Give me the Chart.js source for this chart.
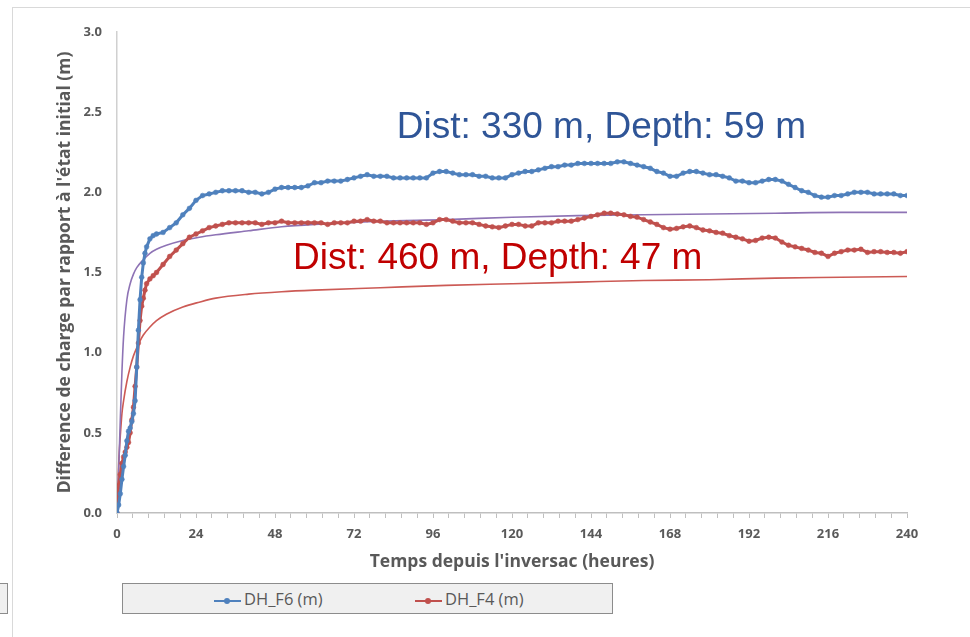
<!DOCTYPE html>
<html>
<head>
<meta charset="utf-8">
<script src="https://cdn.jsdelivr.net/npm/chart.js@4"></script>
<style>
  html, body { margin: 0; padding: 0; background: #fff; }
  #wrap { position: relative; width: 970px; height: 637px; overflow: hidden; }
  #frameTop { position: absolute; left: 12px; top: 7px; width: 958px; height: 0; border-top: 1px solid #d9d9d9; }
  #frameLeft { position: absolute; left: 12px; top: 7px; width: 0; height: 630px; border-left: 1px solid #d9d9d9; }
  #stub { position: absolute; left: -2px; top: 583px; width: 8px; height: 29px; background: #f0f0f0; border: 1px solid #8c8c8c; }
  #legend { position: absolute; left: 122px; top: 583px; width: 489px; height: 29px; background: #f0f0f0; border: 1px solid #8c8c8c;
            font-family: "Open Sans", sans-serif; font-size: 16.5px; color: #595959; }
  .item { position: absolute; top: 3px; white-space: nowrap; }
  .mark { display: inline-block; position: relative; width: 27px; height: 2px; vertical-align: middle; margin-right: 3px; }
  .mark::after { content: ""; position: absolute; left: 10px; top: -2px; width: 6px; height: 6px; border-radius: 50%; background: inherit; }
  canvas { position: absolute; left: 0; top: 0; }
</style>
</head>
<body>
<div id="wrap">
  <div id="frameTop"></div>
  <div id="frameLeft"></div>
  <div id="stub"></div>
  <div id="legend">
    <span class="item" style="left:91px"><span class="mark" style="background:#4f81bd"></span>DH_F6 (m)</span>
    <span class="item" style="left:292px"><span class="mark" style="background:#c0504d"></span>DH_F4 (m)</span>
  </div>
  <canvas id="dh-chart" width="970" height="637"></canvas>
</div>
<script>
// observation times (hours since the inversion)
const hoursObs = [
  0, 0.5, 1, 1.5, 2, 2.5, 3, 3.5, 4, 4.5, 5, 5.5, 6, 6.5, 7, 7.5, 8, 8.5, 9, 10, 11, 12,
  14, 16, 18, 20, 22, 24, 26, 28, 30, 32, 34, 36, 38, 40, 42, 44, 46, 48,
  50, 52, 54, 56, 58, 60, 62, 64, 66, 68, 70, 72, 74, 76, 78, 80, 82, 84, 86, 88,
  90, 92, 94, 96, 98, 100, 102, 104, 106, 108, 110, 112, 114, 116, 118, 120,
  122, 124, 126, 128, 130, 132, 134, 136, 138, 140, 142, 144, 146, 148, 150,
  152, 154, 156, 158, 160, 162, 164, 166, 168, 170, 172, 174, 176, 178, 180,
  182, 184, 186, 188, 190, 192, 194, 196, 198, 200, 202, 204, 206, 208, 210,
  212, 214, 216, 218, 220, 222, 224, 226, 228, 230, 232, 234, 236, 238, 240
];
const dhF6 = [
  0, 0.05, 0.12, 0.21, 0.29, 0.36, 0.45, 0.51, 0.53, 0.57, 0.62, 0.70, 0.91, 1.14, 1.33, 1.47, 1.56, 1.62, 1.66, 1.71, 1.73, 1.74,
  1.75, 1.78, 1.81, 1.86, 1.90, 1.95, 1.98, 1.99, 2.00, 2.01, 2.01, 2.01, 2.01, 2.00, 2.00, 1.99, 2.00, 2.02,
  2.03, 2.03, 2.03, 2.03, 2.04, 2.06, 2.06, 2.07, 2.07, 2.07, 2.08, 2.09, 2.10, 2.11, 2.10, 2.10, 2.10, 2.09, 2.09, 2.09,
  2.09, 2.09, 2.09, 2.12, 2.13, 2.13, 2.12, 2.11, 2.11, 2.11, 2.10, 2.10, 2.09, 2.09, 2.09, 2.11,
  2.12, 2.13, 2.13, 2.14, 2.15, 2.16, 2.16, 2.17, 2.17, 2.18, 2.18, 2.18, 2.18, 2.18, 2.18,
  2.19, 2.19, 2.18, 2.17, 2.16, 2.15, 2.13, 2.12, 2.10, 2.10, 2.12, 2.13, 2.13, 2.12, 2.11,
  2.11, 2.10, 2.09, 2.07, 2.07, 2.06, 2.06, 2.07, 2.08, 2.08, 2.07, 2.05, 2.03, 2.01, 2.00,
  1.98, 1.97, 1.97, 1.98, 1.98, 1.99, 2.00, 2.00, 2.00, 1.99, 1.99, 1.99, 1.99, 1.98, 1.98
];
const dhF4 = [
  0, 0.17, 0.24, 0.31, 0.35, 0.38, 0.41, 0.44, 0.50, 0.58, 0.66, 0.79, 0.91, 1.06, 1.20, 1.29, 1.34, 1.39, 1.43, 1.46, 1.48, 1.50,
  1.55, 1.60, 1.64, 1.68, 1.72, 1.74, 1.76, 1.78, 1.79, 1.80, 1.81, 1.81, 1.81, 1.81, 1.81, 1.80, 1.81, 1.81,
  1.82, 1.81, 1.81, 1.81, 1.81, 1.81, 1.81, 1.80, 1.81, 1.81, 1.81, 1.82, 1.82, 1.83, 1.82, 1.82, 1.81, 1.81, 1.81, 1.81,
  1.81, 1.81, 1.80, 1.81, 1.83, 1.83, 1.82, 1.81, 1.81, 1.81, 1.80, 1.79, 1.785, 1.78, 1.79, 1.80,
  1.80, 1.79, 1.79, 1.81, 1.81, 1.81, 1.82, 1.82, 1.82, 1.83, 1.84, 1.85, 1.86, 1.87, 1.87,
  1.865, 1.86, 1.85, 1.845, 1.83, 1.815, 1.80, 1.78, 1.77, 1.775, 1.785, 1.79, 1.78, 1.765, 1.76,
  1.75, 1.745, 1.73, 1.72, 1.71, 1.695, 1.70, 1.715, 1.72, 1.715, 1.69, 1.67, 1.66, 1.65, 1.64,
  1.625, 1.62, 1.60, 1.62, 1.63, 1.64, 1.64, 1.645, 1.625, 1.63, 1.63, 1.625, 1.625, 1.62, 1.63
];

// theoretical curves (not in the legend)
const hoursModel = [0, 0.25, 0.5, 0.75, 1, 1.5, 2, 3, 4, 5, 6, 8, 10, 12, 15, 20, 25, 30, 40, 50, 60, 80, 100, 120, 140, 160, 180, 200, 220, 240];
const modelF6 = [0, 0.08, 0.25, 0.42, 0.58, 0.88, 1.10, 1.33, 1.43, 1.49, 1.53, 1.58, 1.62, 1.645, 1.67, 1.70, 1.72, 1.735, 1.76, 1.785, 1.80, 1.82, 1.83, 1.845, 1.855, 1.86, 1.865, 1.87, 1.875, 1.875];
const modelF4 = [0, 0.16, 0.30, 0.40, 0.48, 0.62, 0.70, 0.82, 0.91, 0.98, 1.03, 1.11, 1.16, 1.20, 1.24, 1.285, 1.315, 1.34, 1.365, 1.38, 1.39, 1.405, 1.42, 1.43, 1.44, 1.45, 1.455, 1.465, 1.47, 1.475];

const yTicks = [0, 0.5, 1.0, 1.5, 2.0, 2.5, 3.0];
const xLabelStep = 24;

const annotations = [
  {text: "Dist: 330 m, Depth: 59 m", x: 85, y: 2.40, color: "#2f5597"},
  {text: "Dist: 460 m, Depth: 47 m", x: 53.5, y: 1.585, color: "#c00000"}
];

const pts = (xs, ys) => xs.map((x, i) => ({x: x, y: ys[i]}));

const textPlugin = {
  id: "notes",
  afterDatasetsDraw(chart) {
    const {ctx, scales} = chart;
    ctx.save();
    ctx.font = "37px 'Liberation Sans', Arial, sans-serif";
    ctx.textBaseline = "middle";
    ctx.textAlign = "left";
    annotations.forEach(a => {
      ctx.fillStyle = a.color;
      ctx.fillText(a.text, scales.x.getPixelForValue(a.x), scales.y.getPixelForValue(a.y));
    });
    ctx.restore();
  }
};

const gray = "#595959";

new Chart(document.getElementById("dh-chart"), {
  type: "line",
  data: {
    datasets: [{
      label: "DH_F6 (m)",
      data: pts(hoursObs, dhF6),
      borderColor: "#4f81bd",
      backgroundColor: "#4f81bd",
      borderWidth: 3,
      pointRadius: 2.4,
      pointBorderWidth: 0.5
    }, {
      label: "DH_F4 (m)",
      data: pts(hoursObs, dhF4),
      borderColor: "#c0504d",
      backgroundColor: "#c0504d",
      borderWidth: 3,
      pointRadius: 2.4,
      pointBorderWidth: 0.5
    }, {
      label: "F6 model",
      data: pts(hoursModel, modelF6),
      borderColor: "#8e73b5",
      borderWidth: 1.6,
      pointRadius: 0,
      cubicInterpolationMode: "monotone"
    }, {
      label: "F4 model",
      data: pts(hoursModel, modelF4),
      borderColor: "#cc5a55",
      borderWidth: 1.6,
      pointRadius: 0,
      cubicInterpolationMode: "monotone"
    }]
  },
  options: {
    responsive: false,
    animation: false,
    layout: {padding: {left: 0, top: 32, right: 63, bottom: 24}},
    plugins: {legend: {display: false}, tooltip: {enabled: false}},
    scales: {
      x: {
        type: "linear",
        min: 0, max: 240,
        afterFit: s => { s.height = 100; },
        grid: {drawOnChartArea: false, drawTicks: true, tickLength: 5, color: "#bfbfbf"},
        border: {display: true, color: "#bfbfbf", width: 1.5},
        ticks: {
          stepSize: 4.8,
          autoSkip: false,
          maxRotation: 0,
          padding: 8,
          color: gray,
          font: {family: "'Open Sans', sans-serif", size: 13, weight: "bold"},
          callback: v => (Math.abs(v / xLabelStep - Math.round(v / xLabelStep)) < 1e-6 ? v : "")
        },
        title: {
          display: true,
          text: "Temps depuis l'inversac (heures)",
          color: gray,
          font: {family: "'Open Sans', sans-serif", size: 17.5, weight: "bold"},
          padding: {top: 0, bottom: 40}
        }
      },
      y: {
        min: 0, max: 3,
        afterFit: s => { s.width = 117; },
        afterBuildTicks: s => { s.ticks = yTicks.map(v => ({value: v})); },
        grid: {display: false, drawTicks: false},
        border: {display: true, color: "#d0d0d0", width: 1.5},
        ticks: {
          padding: 15,
          color: gray,
          font: {family: "'Open Sans', sans-serif", size: 13, weight: "bold"},
          callback: v => v.toFixed(1)
        },
        title: {
          display: true,
          text: "Difference de charge par rapport à l'état initial (m)",
          color: gray,
          font: {family: "'Open Sans', sans-serif", size: 17.5, weight: "bold"},
          padding: {top: 55, bottom: 0}
        }
      }
    }
  },
  plugins: [textPlugin]
});
</script>
</body>
</html>
